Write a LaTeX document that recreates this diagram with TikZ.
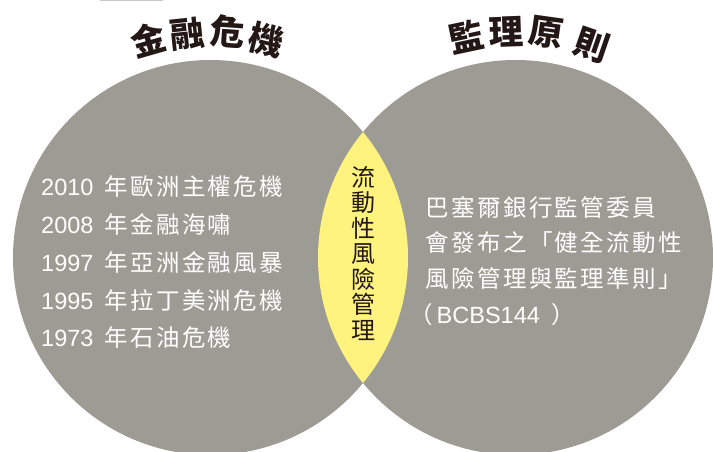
\documentclass[tikz,border=0pt]{standalone}
\usepackage{fontspec}
\setmainfont{Liberation Sans}
\newfontfamily\cjk[LetterSpace=10]{Noto Sans CJK TC}
\newfontfamily\cjkplain{Noto Sans CJK TC}
\definecolor{vgrey}{RGB}{157,156,148}
\definecolor{lens}{RGB}{255,243,128}
\definecolor{inkc}{RGB}{35,24,21}
\definecolor{barc}{RGB}{200,200,200}
\begin{document}
\begin{tikzpicture}[x=1pt,y=-1pt,
  titlech/.style={font=\cjkplain\bfseries\fontsize{34.5}{34.5}\selectfont, text=inkc, inner sep=0pt},
  item/.style={anchor=base west, text=white, inner sep=0pt, font=\fontsize{23.5}{28}\selectfont},
  vtext/.style={align=center, text=inkc, inner sep=0pt, font=\cjkplain\fontsize{24}{25.5}\selectfont}]
\useasboundingbox (0,0) rectangle (713,452);
% thin bar at top
\fill[barc] (100,0) rectangle (163,1.3);
% circles
\coordinate (cl) at (210.5,257.5);
\coordinate (cr) at (515.5,257.5);
\fill[vgrey] (cl) circle[radius=197.5pt];
\fill[vgrey] (cr) circle[radius=197.5pt];
\begin{scope}
  \clip (cl) circle[radius=197.5pt];
  \fill[lens] (cr) circle[radius=197.5pt];
\end{scope}
% titles
\node[titlech, rotate=16]  (t1) at (148,40) {金};
\node[titlech, rotate=6]   (t2) at (187.5,34) {融};
\node[titlech, rotate=-4]  (t3) at (228,32) {危};
\node[titlech, rotate=-14] (t4) at (266,40) {機};
\node[titlech, rotate=12]  (s1) at (467,37) {監};
\node[titlech, rotate=2]   (s2) at (506,32) {理};
\node[titlech, rotate=-8]  (s3) at (546,33) {原};
\node[titlech, rotate=-19] (s4) at (592,45) {則};
% left list
\node[item] (a1) at (41,195) {2010\hspace{11pt}{\cjk 年歐洲主權危機}};
\node[item] (a2) at (41,233) {2008\hspace{11pt}{\cjk 年金融海嘯}};
\node[item] (a3) at (41,271) {1997\hspace{11pt}{\cjk 年亞洲金融風暴}};
\node[item] (a4) at (41,309) {1995\hspace{11pt}{\cjk 年拉丁美洲危機}};
\node[item] (a5) at (41,346) {1973\hspace{11pt}{\cjk 年石油危機}};
% right text
\node[item] (b1) at (425.5,216) {\cjk 巴塞爾銀行監管委員};
\node[item] (b2) at (425.5,251.5) {\cjk 會發布之「健全流動性};
\node[item] (b3) at (425.5,287) {\cjk 風險管理與監理準則」};
\node[item] (b4) at (409,323) {{\cjk （}\hspace{4pt}BCBS144\hspace{12pt}{\cjk ）}};
% centre vertical text
\node[vtext] (v) at (363,253.5) {流\\動\\性\\風\\險\\管\\理};
\end{tikzpicture}
\end{document}
